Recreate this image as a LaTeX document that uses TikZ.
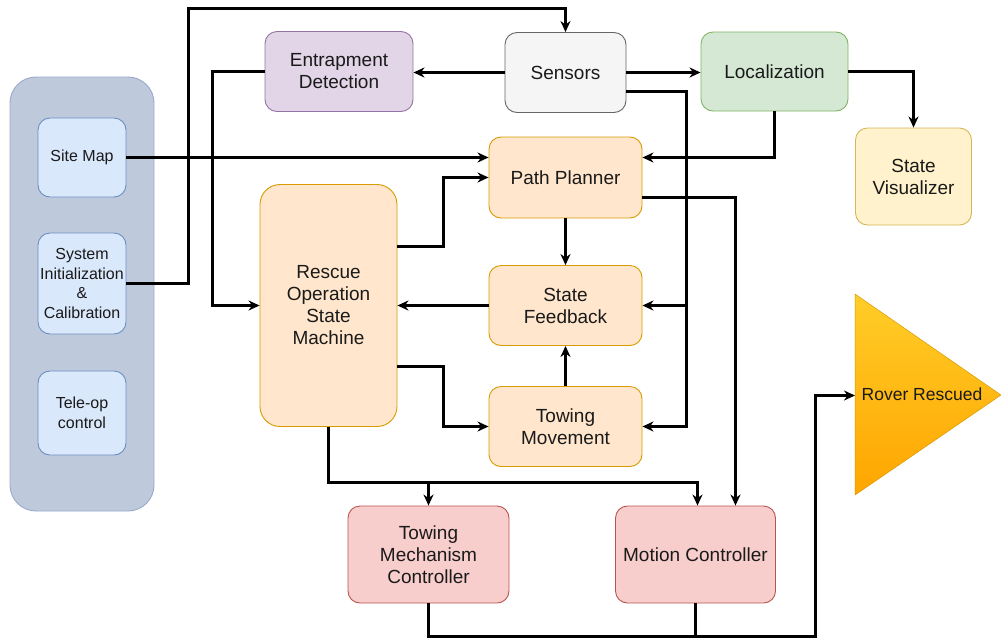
\documentclass[tikz,border=0pt]{standalone}
\usepackage{fontspec}
\setmainfont{Liberation Sans}
\usetikzlibrary{arrows.meta}
\definecolor{panelfill}{HTML}{BECADC}
\definecolor{panelline}{HTML}{97AACB}
\definecolor{bluefill}{HTML}{DAE8FC}
\definecolor{blueline}{HTML}{6C8EBF}
\definecolor{purplefill}{HTML}{E1D5E7}
\definecolor{purpleline}{HTML}{9673A6}
\definecolor{grayfill}{HTML}{F5F5F5}
\definecolor{grayline}{HTML}{666666}
\definecolor{greenfill}{HTML}{D5E8D4}
\definecolor{greenline}{HTML}{82B366}
\definecolor{yellowfill}{HTML}{FFF2CC}
\definecolor{yellowline}{HTML}{D6B656}
\definecolor{orangefill}{HTML}{FFE6CC}
\definecolor{orangeline}{HTML}{D79B00}
\definecolor{redfill}{HTML}{F8CECC}
\definecolor{redline}{HTML}{B85450}
\definecolor{tritop}{HTML}{FFCD28}
\definecolor{tribot}{HTML}{FFA500}
\definecolor{txt}{HTML}{1A1A1A}
\tikzset{
  box/.style={draw, rounded corners=12pt, line width=0.9pt, align=center,
    text=txt, font=\fontsize{19}{22}\selectfont, inner sep=0pt},
  small/.style={box, font=\fontsize{16}{19.5}\selectfont},
  arr/.style={line width=2.2pt, -{Stealth[length=11pt,width=10pt,inset=3.5pt]}},
  wire/.style={line width=2.2pt},
}
\begin{document}
\begin{tikzpicture}[x=1pt,y=-1pt]
\useasboundingbox (0,0) rectangle (1001,638);

% input panel
\draw[fill=panelfill, draw=panelline, line width=0.9pt, rounded corners=26pt] (10,77) rectangle (154,511);
\node[small, fill=bluefill, draw=blueline, minimum width=88pt, minimum height=79pt] (sitemap) at (82,157.5) {Site Map};
\node[small, fill=bluefill, draw=blueline, minimum width=88pt, minimum height=101pt] (sysinit) at (82,283.5) {System\\Initialization\\\&\\Calibration};
\node[small, fill=bluefill, draw=blueline, minimum width=88pt, minimum height=84pt] (teleop) at (82,413) {Tele-op\\control};

% processing blocks
\node[box, fill=purplefill, draw=purpleline, minimum width=148pt, minimum height=80pt] (entrap) at (339,71.5) {Entrapment\\Detection};
\node[box, fill=grayfill, draw=grayline, minimum width=121pt, minimum height=80pt] (sensors) at (565.5,72.5) {Sensors};
\node[box, fill=greenfill, draw=greenline, minimum width=147pt, minimum height=79pt] (loc) at (774.5,71.5) {Localization};
\node[box, fill=yellowfill, draw=yellowline, minimum width=116pt, minimum height=97pt] (vis) at (913.5,176.5) {State\\Visualizer};
\node[box, fill=orangefill, draw=orangeline, minimum width=153pt, minimum height=81pt] (planner) at (565.5,177.5) {Path Planner};
\node[box, fill=orangefill, draw=orangeline, minimum width=153pt, minimum height=80pt] (feedback) at (565.5,305.5) {State\\Feedback};
\node[box, fill=orangefill, draw=orangeline, minimum width=153pt, minimum height=80pt] (towmove) at (565.5,426.5) {Towing\\Movement};
\node[box, fill=orangefill, draw=orangeline, rounded corners=20pt, minimum width=137pt, minimum height=242pt] (rescue) at (328.5,305.5) {Rescue\\Operation\\State\\Machine};
\node[box, fill=redfill, draw=redline, minimum width=161pt, minimum height=97pt] (towmech) at (428.5,554.5) {Towing\\Mechanism\\Controller};
\node[box, fill=redfill, draw=redline, minimum width=160pt, minimum height=97pt] (motion) at (695.5,554.5) {Motion Controller};

% goal triangle
\shadedraw[top color=tritop, bottom color=tribot, draw=orangeline, line width=0.5pt] (855,294) -- (1001,395) -- (855,495) -- cycle;
\node[text=txt, font=\fontsize{17.5}{20}\selectfont, inner sep=0pt] (rover) at (922,394) {Rover Rescued};
\coordinate (roverin) at (855,395.5);

% connectors
\draw[arr] (sysinit.east) -- (188.5,283.5) -- (188.5,8.5) -| (sensors.north);
\draw[arr] (sitemap.east) -- (planner.west |- sitemap.east);
\draw[arr] (entrap.west) -- (212.5,71.5) |- (rescue.west);
\draw[arr] (sensors.west) -- (entrap.east |- sensors.west);
\draw[arr] (sensors.east) -- (loc.west |- sensors.east);
\draw[arr] ([yshift=-19pt]sensors.east) -- (686.5,91.5) |- (towmove.east);
\coordinate (fbtap) at (686.5,305.5);
\draw[arr] (fbtap) -- (feedback.east);
\draw[arr] (loc.east) -| (vis.north);
\draw[arr] (loc.south) |- ([yshift=20pt]planner.east);
\draw[arr] ([yshift=-20pt]planner.east) -| ([xshift=40pt]motion.north);
\draw[arr] (planner.south) -- (feedback.north);
\draw[arr] (towmove.north) -- (feedback.south);
\draw[arr] (feedback.west) -- (rescue.east);
\draw[arr] ([yshift=59pt]rescue.east) -- (443.5,246.5) |- (planner.west);
\draw[arr] ([yshift=-61pt]rescue.east) -- (443.5,366.5) |- (towmove.west);
\coordinate (split) at (428.5,482.5);
\draw[arr] (rescue.south) |- (split) -| ([xshift=2pt]motion.north);
\draw[arr] (split) -- (towmech.north);
\coordinate (merge) at (695.5,636.5);
\draw[wire] (towmech.south) |- (merge);
\draw[wire] (motion.south) -- (merge);
\draw[arr] (merge) -- (815.5,636.5) -- (815.5,395.5) -- (roverin);
\end{tikzpicture}
\end{document}
